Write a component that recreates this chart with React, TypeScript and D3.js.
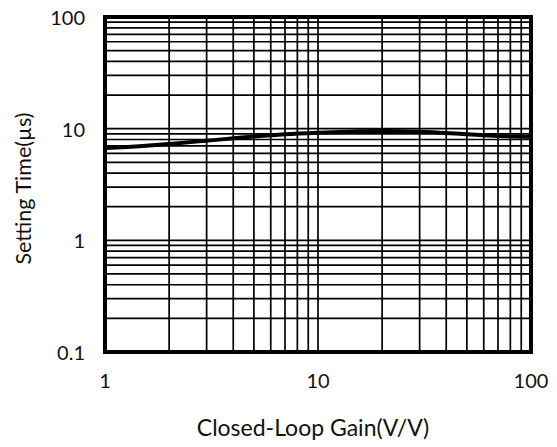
import { useEffect, useRef } from "react";
import * as d3 from "d3";

const gainValues = [1, 1.5, 2, 3, 5, 7, 10, 15, 20, 30, 50, 70, 100];
const settlingTime = [6.7, 7.0, 7.3, 7.8, 8.5, 8.9, 9.2, 9.45, 9.55, 9.4, 8.9, 8.6, 8.45];
const xTickValues = [1, 10, 100];
const xTickLabels = ["1", "10", "100"];
const yTickValues = [0.1, 1, 10, 100];
const yTickLabels = ["0.1", "1", "10", "100"];

export default function App() {
  const svgRef = useRef<SVGSVGElement | null>(null);

  useEffect(() => {
    const width = 557;
    const height = 447;
    const margin = { top: 17, right: 26, bottom: 95, left: 105 };
    const font = "Lato, 'Open Sans', sans-serif";

    const svg = d3.select(svgRef.current).attr("width", width).attr("height", height);
    svg.selectAll("*").remove();

    const x = d3.scaleLog().domain([1, 100]).range([margin.left, width - margin.right]);
    const y = d3.scaleLog().domain([0.1, 100]).range([height - margin.bottom, margin.top]);

    // grid lines for every 1..9 per decade
    const xGrid: number[] = [];
    for (let d = 1; d < 100; d *= 10) for (let k = 1; k <= 9; k++) xGrid.push(d * k);
    const yGrid: number[] = [];
    for (let d = 0.1; d < 99; d *= 10) for (let k = 1; k <= 9; k++) yGrid.push(d * k);

    const grid = svg.append("g").attr("stroke", "#000").attr("stroke-width", 1.7);
    grid
      .selectAll("line.v")
      .data(xGrid)
      .enter()
      .append("line")
      .attr("x1", (d) => x(d))
      .attr("x2", (d) => x(d))
      .attr("y1", y(100))
      .attr("y2", y(0.1));
    grid
      .selectAll("line.h")
      .data(yGrid)
      .enter()
      .append("line")
      .attr("y1", (d) => y(d))
      .attr("y2", (d) => y(d))
      .attr("x1", x(1))
      .attr("x2", x(100));

    const line = d3
      .line<number>()
      .x((_, i) => x(gainValues[i]))
      .y((d) => y(d))
      .curve(d3.curveMonotoneX);

    svg
      .append("path")
      .datum(settlingTime)
      .attr("d", line)
      .attr("fill", "none")
      .attr("stroke", "#000")
      .attr("stroke-width", 4);

    svg
      .append("rect")
      .attr("x", x(1))
      .attr("y", y(100))
      .attr("width", x(100) - x(1))
      .attr("height", y(0.1) - y(100))
      .attr("fill", "none")
      .attr("stroke", "#000")
      .attr("stroke-width", 4);

    svg
      .selectAll("text.xt")
      .data(xTickValues)
      .enter()
      .append("text")
      .attr("x", (d) => x(d))
      .attr("y", height - margin.bottom + 36)
      .attr("text-anchor", "middle")
      .attr("fill", "#111")
      .style("font-family", font)
      .style("font-size", "20px")
      .text((_, i) => xTickLabels[i]);

    svg
      .selectAll("text.yt")
      .data(yTickValues)
      .enter()
      .append("text")
      .attr("x", margin.left - 20)
      .attr("y", (d) => y(d) + 8)
      .attr("text-anchor", "end")
      .attr("fill", "#111")
      .style("font-family", font)
      .style("font-size", "20px")
      .text((_, i) => yTickLabels[i]);

    svg
      .append("text")
      .attr("x", 313)
      .attr("y", 436)
      .attr("text-anchor", "middle")
      .attr("fill", "#111")
      .style("font-family", font)
      .style("font-size", "23px")
      .text("Closed-Loop Gain(V/V)");

    svg
      .append("text")
      .attr("transform", `translate(31, ${(y(0.1) + y(100)) / 2 + 4}) rotate(-90)`)
      .attr("text-anchor", "middle")
      .attr("fill", "#111")
      .style("font-family", font)
      .style("font-size", "21.5px")
      .text("Setting Time(µs)");
  }, []);

  return (
    <div style={{ position: "absolute", left: 0, top: 0 }}>
      <svg ref={svgRef}></svg>
    </div>
  );
}
